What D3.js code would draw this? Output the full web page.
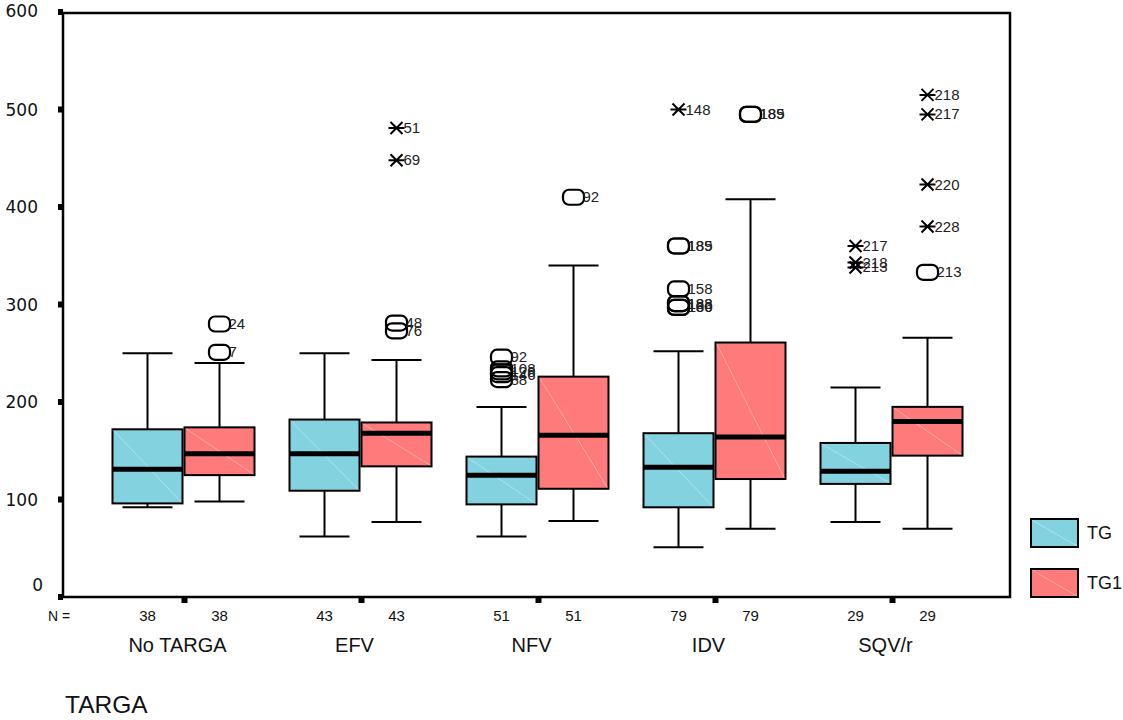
<!DOCTYPE html>
<html><head><meta charset="utf-8">
<script src="https://cdn.jsdelivr.net/npm/d3@7"></script>
<style>body{margin:0;background:#fff}svg{display:block}</style>
</head><body>
<svg id="c" width="1123" height="720"></svg>
<script>
const categories = ["No TARGA", "EFV", "NFV", "IDV", "SQV/r"];
const seriesNames = ["TG", "TG1"];
const seriesColors = ["#82d2df", "#ff7a7a"];
const counts = [38, 43, 51, 79, 29];
// [lower whisker, Q1, median, Q3, upper whisker]
const tgStats = [
  [92, 96, 131, 172, 250],
  [62, 109, 147, 182, 250],
  [62, 95, 125, 144, 195],
  [51, 92, 133, 168, 252],
  [77, 116, 129, 158, 215]
];
const tg1Stats = [
  [98, 125, 147, 174, 240],
  [77, 134, 168, 179, 243],
  [78, 111, 166, 226, 340],
  [70, 121, 164, 261, 408],
  [70, 145, 180, 195, 266]
];
// outliers: [categoryIndex, value, label, kind]
const tgOutliers = [
  [2, 246, "92", "o"], [2, 234, "108", "o"], [2, 231, "128", "o"], [2, 228, "146", "o"], [2, 223, "88", "o"],
  [3, 500, "148", "x"], [3, 360, "185", "o"], [3, 360, "189", "o"], [3, 316, "158", "o"],
  [3, 301, "183", "o"], [3, 301, "188", "o"], [3, 297, "180", "o"], [3, 297, "166", "o"],
  [4, 360, "217", "x"], [4, 343, "218", "x"], [4, 338, "213", "x"]
];
const tg1Outliers = [
  [0, 280, "24", "o"], [0, 251, "7", "o"],
  [1, 481, "51", "x"], [1, 448, "69", "x"], [1, 281, "48", "o"], [1, 273, "76", "o"],
  [2, 410, "92", "o"],
  [3, 495, "185", "o"], [3, 495, "189", "o"],
  [4, 515, "218", "x"], [4, 495, "217", "x"], [4, 423, "220", "x"], [4, 380, "228", "x"], [4, 333, "213", "o"]
];
const yTicks = [0, 100, 200, 300, 400, 500, 600];

const svg = d3.select("#c");
const x = d3.scaleBand().domain(categories).range([96, 981]);
const y = d3.scaleLinear().domain([0, 600]).range([597, 12]);
const cx = c => x(c) + x.bandwidth() / 2;
const boxW = 70, capW = 50;
const offsets = [-37, 35];

// frame
svg.append("rect").attr("x", 63).attr("y", 13).attr("width", 947).attr("height", 584)
  .attr("fill", "none").attr("stroke", "#000").attr("stroke-width", 2.5);

// y axis ticks & labels
yTicks.forEach(t => {
  svg.append("rect").attr("x", 58).attr("y", y(t) - 3).attr("width", 5).attr("height", 6).attr("fill", "#000");
  let ty = y(t) + 6, tx = 38;
  if (t === 600) ty = y(t) + 5;
  if (t === 0) { ty = y(t) - 6; tx = 43; }
  svg.append("text").attr("x", tx).attr("y", ty).attr("text-anchor", "end")
    .attr("font-family", "DejaVu Sans").attr("font-size", 17).attr("fill", "#111").text(t);
});

// bottom ticks
categories.forEach(c => {
  svg.append("rect").attr("x", cx(c) - 3).attr("y", 597).attr("width", 6).attr("height", 6).attr("fill", "#000");
});

function drawBoxes(stats, si) {
  const col = seriesColors[si];
  categories.forEach((c, i) => {
    const [lo, q1, md, q3, hi] = stats[i];
    const bc = cx(c) + offsets[si];
    const g = svg.append("g");
    g.append("line").attr("x1", bc).attr("x2", bc).attr("y1", y(hi)).attr("y2", y(q3)).attr("stroke", "#000").attr("stroke-width", 2);
    g.append("line").attr("x1", bc).attr("x2", bc).attr("y1", y(q1)).attr("y2", y(lo)).attr("stroke", "#000").attr("stroke-width", 2);
    g.append("line").attr("x1", bc - capW / 2).attr("x2", bc + capW / 2).attr("y1", y(hi)).attr("y2", y(hi)).attr("stroke", "#000").attr("stroke-width", 2);
    g.append("line").attr("x1", bc - capW / 2).attr("x2", bc + capW / 2).attr("y1", y(lo)).attr("y2", y(lo)).attr("stroke", "#000").attr("stroke-width", 2);
    g.append("rect").attr("x", bc - boxW / 2).attr("y", y(q3)).attr("width", boxW).attr("height", y(q1) - y(q3))
      .attr("fill", col).attr("stroke", "#000").attr("stroke-width", 2);
    g.append("line").attr("x1", bc - boxW / 2 + 1).attr("y1", y(q3) + 1).attr("x2", bc + boxW / 2 - 1).attr("y2", y(q1) - 1)
      .attr("stroke", "#fff").attr("stroke-opacity", 0.35).attr("stroke-width", 1);
    g.append("line").attr("x1", bc - boxW / 2).attr("x2", bc + boxW / 2).attr("y1", y(md)).attr("y2", y(md))
      .attr("stroke", "#000").attr("stroke-width", 5);
    svg.append("text").attr("x", bc).attr("y", 621).attr("text-anchor", "middle")
      .attr("font-family", "Liberation Sans").attr("font-size", 15).attr("fill", "#111").text(counts[i]);
  });
}
drawBoxes(tgStats, 0);
drawBoxes(tg1Stats, 1);

function drawOutliers(list, si) {
  list.forEach(([ci, v, lab, kind]) => {
    const bc = cx(categories[ci]) + offsets[si];
    const py = y(v);
    if (kind === "o") {
      svg.append("rect").attr("x", bc - 10.5).attr("y", py - 7.5).attr("width", 21).attr("height", 15).attr("rx", 6).attr("ry", 6)
        .attr("fill", "none").attr("stroke", "#000").attr("stroke-width", 2.2);
      svg.append("text").attr("x", bc + 9).attr("y", py + 5).attr("font-family", "Liberation Sans").attr("font-size", 15)
        .attr("fill", "#222").text(lab);
    } else {
      const p = `M${bc - 8},${py}H${bc + 8}M${bc - 6},${py - 6}L${bc + 6},${py + 6}M${bc - 6},${py + 6}L${bc + 6},${py - 6}`;
      svg.append("path").attr("d", p).attr("stroke", "#000").attr("stroke-width", 2).attr("fill", "none");
      svg.append("text").attr("x", bc + 7).attr("y", py + 5).attr("font-family", "Liberation Sans").attr("font-size", 15)
        .attr("fill", "#222").text(lab);
    }
  });
}
drawOutliers(tgOutliers, 0);
drawOutliers(tg1Outliers, 1);

svg.append("text").attr("x", 48).attr("y", 621).attr("font-family", "Liberation Sans").attr("font-size", 14).attr("fill", "#111").text("N =");

categories.forEach(c => {
  svg.append("text").attr("x", cx(c) - 7).attr("y", 652).attr("text-anchor", "middle")
    .attr("font-family", "Liberation Sans").attr("font-size", 20).attr("fill", "#111").text(c);
});

svg.append("text").attr("x", 65).attr("y", 713).attr("font-family", "Liberation Sans").attr("font-size", 24.5).attr("fill", "#111").text("TARGA");

seriesNames.forEach((s, i) => {
  const ly = 519 + i * 50;
  svg.append("rect").attr("x", 1031).attr("y", ly).attr("width", 47).attr("height", 28)
    .attr("fill", seriesColors[i]).attr("stroke", "#000").attr("stroke-width", 2);
  svg.append("line").attr("x1", 1032).attr("y1", ly + 1).attr("x2", 1077).attr("y2", ly + 27)
    .attr("stroke", "#fff").attr("stroke-opacity", 0.35).attr("stroke-width", 1);
  svg.append("text").attr("x", 1087).attr("y", ly + 20).attr("font-family", "Liberation Sans").attr("font-size", 18)
    .attr("fill", "#111").text(s);
});
</script>
</body></html>
